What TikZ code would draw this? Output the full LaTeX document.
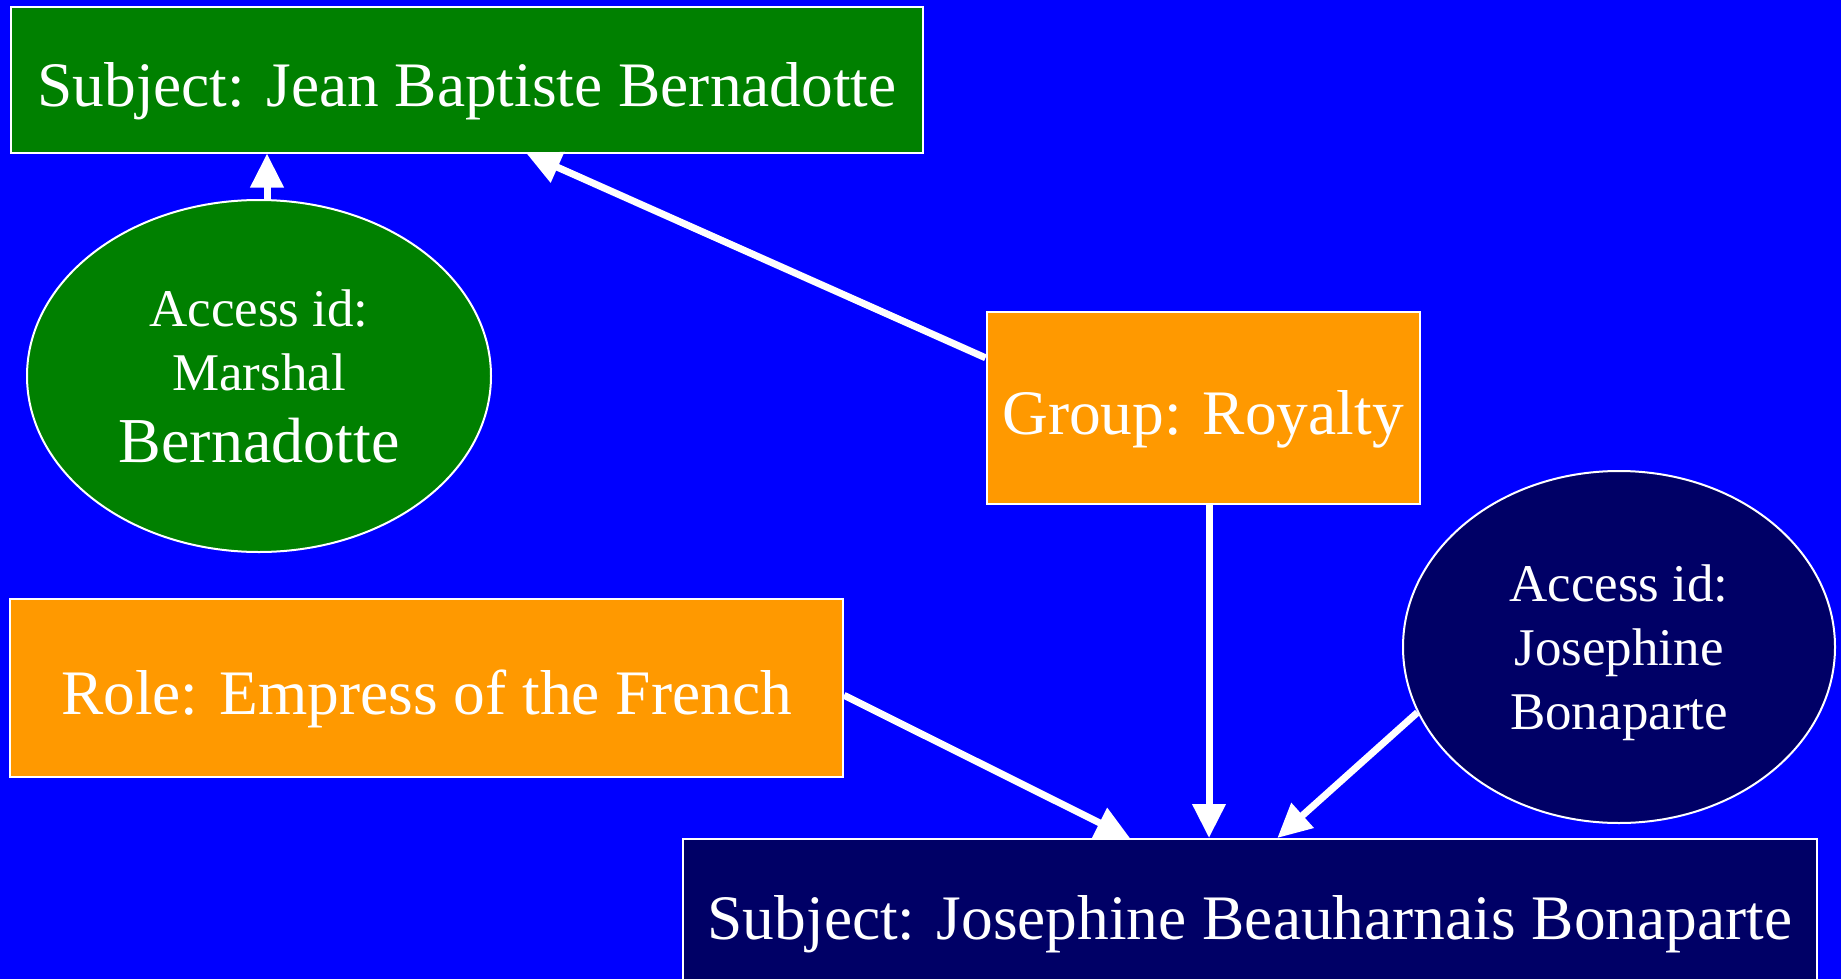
\documentclass[tikz,border=0pt]{standalone}
\usepackage{fontspec}
\setmainfont{Liberation Serif}
\usetikzlibrary{arrows.meta,shapes.geometric}
\definecolor{subjgreen}{RGB}{0,128,0}
\definecolor{subjnavy}{RGB}{0,0,102}
\definecolor{tagorange}{RGB}{255,153,0}
\definecolor{bgblue}{RGB}{0,0,255}
\begin{document}
\begin{tikzpicture}[x=0.5pt, y=-0.5pt, >={Triangle[length=17pt,width=16pt]}, line width=3.5pt,
box node/.style={rectangle,draw=white,line width=1pt,text=white,inner sep=0pt,text height=26pt,text depth=0pt,font=\fontsize{31.7}{38}\selectfont},
id node/.style={ellipse,draw=white,line width=1pt,text=white,inner sep=0pt,align=center,font=\fontsize{26.5}{32}\selectfont}]
\fill[bgblue] (0,0) rectangle (1841,979);
\useasboundingbox (0,0) rectangle (1841,979);
\begin{scope}
\node[box node, fill=subjgreen, minimum width=456pt, minimum height=72.5pt] (bernadotte) at (467,80) {Subject: Jean Baptiste Bernadotte};
\node[id node, fill=subjgreen, minimum width=232pt, minimum height=176pt] (marshal) at (259,376) {Access id:\\Marshal\\[4pt]{\fontsize{32}{38}\selectfont Bernadotte}};
\node[box node, fill=tagorange, minimum width=216.5pt, minimum height=96pt] (royalty) at (1203,408) {Group: Royalty};
\node[box node, fill=tagorange, minimum width=416.5pt, minimum height=89pt] (empress) at (426.5,688) {Role: Empress of the French};
\node[id node, fill=subjnavy, minimum width=216pt, minimum height=176pt, text depth=0pt] (josephineid) at (1619,647) {Access id:\\Josephine\\Bonaparte};
\node[box node, fill=subjnavy, minimum width=567pt, minimum height=74pt] (josephine) at (1250,913) {Subject: Josephine Beauharnais Bonaparte};
\end{scope}
\begin{scope}[white]
\draw[->] ([xshift=4pt]marshal.north) -- ([xshift=4pt]marshal.north |- bernadotte.south);
\draw[->] (royalty.167) -- (bernadotte.-51);
\draw[->] ([xshift=3pt]royalty.south) -- ([xshift=3pt]royalty.south |- josephine.north);
\draw[->] (empress.-1) -- (josephine.148);
\draw[->] (josephineid.198) -- (josephine.70);
\end{scope}
\end{tikzpicture}
\end{document}
